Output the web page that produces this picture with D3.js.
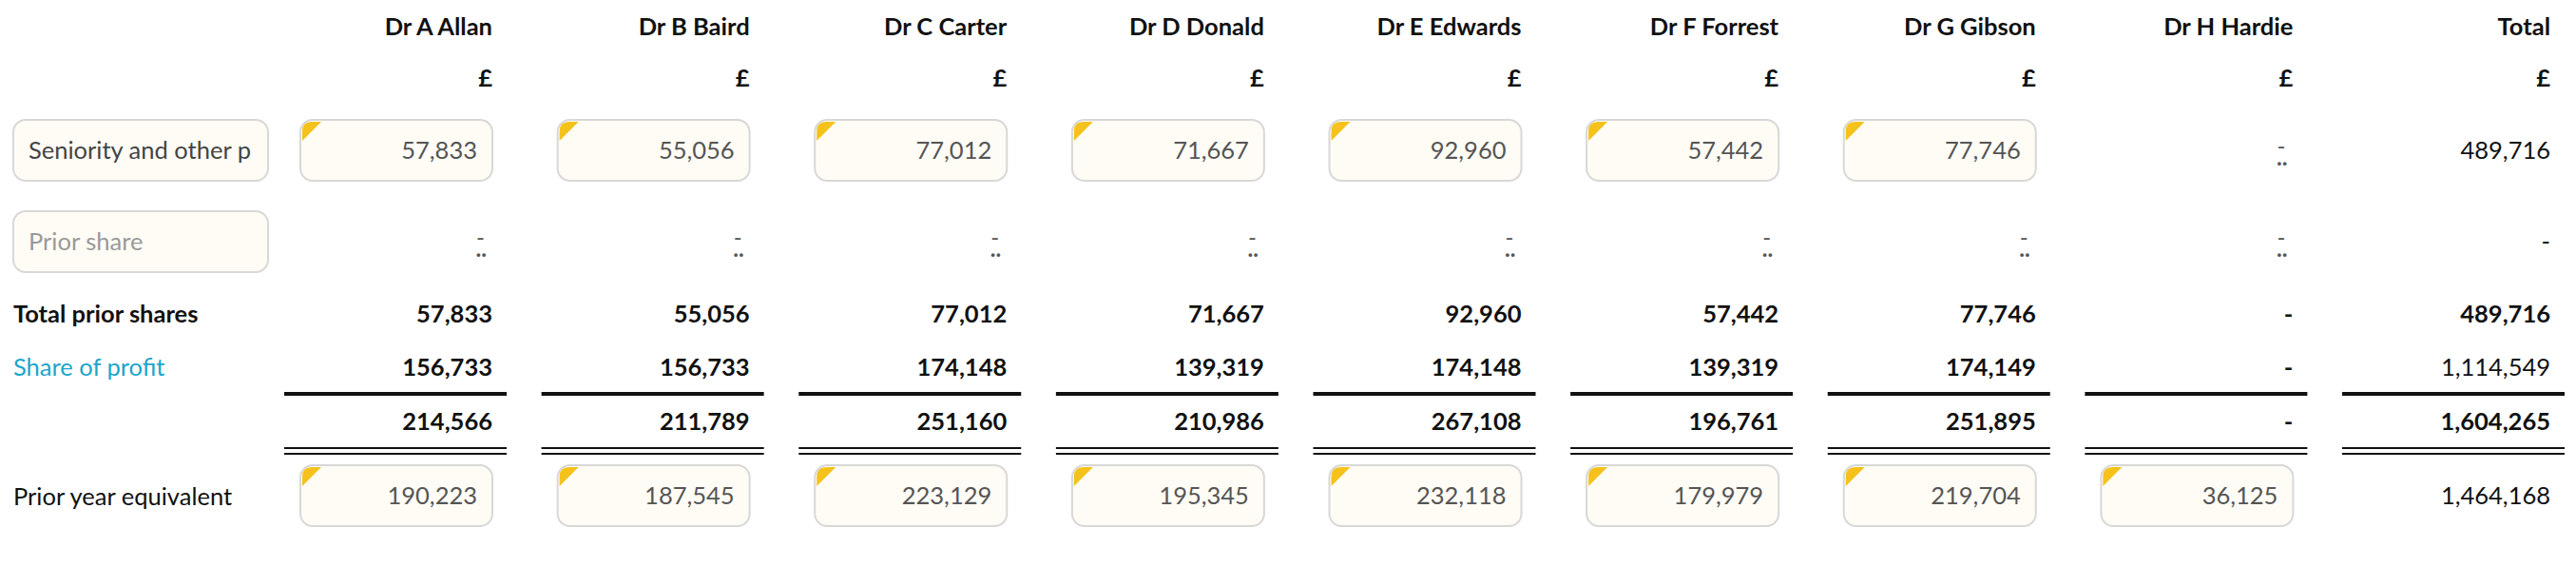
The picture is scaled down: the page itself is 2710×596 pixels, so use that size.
<!DOCTYPE html>
<html>
<head>
<meta charset="utf-8">
<script src="https://cdn.jsdelivr.net/npm/d3@7"></script>
<style>
  body { margin: 0; background: #fff; }
  text { font-family: Lato, "Noto Sans", sans-serif; }
</style>
</head>
<body>
<svg id="chart" width="2710" height="596"></svg>
<script>
// column headers
const partners = ['Dr A Allan', 'Dr B Baird', 'Dr C Carter', 'Dr D Donald', 'Dr E Edwards',
  'Dr F Forrest', 'Dr G Gibson', 'Dr H Hardie', 'Total'];
// null = empty input (placeholder), 0 = dash
const seniority = [57833, 55056, 77012, 71667, 92960, 57442, 77746, null, 489716];
const priorShare = [null, null, null, null, null, null, null, null, 0];
const totalPrior = [57833, 55056, 77012, 71667, 92960, 57442, 77746, 0, 489716];
const shareProfit = [156733, 156733, 174148, 139319, 174148, 139319, 174149, 0, 1114549];
const grandTotal = [214566, 211789, 251160, 210986, 267108, 196761, 251895, 0, 1604265];
const priorYear = [190223, 187545, 223129, 195345, 232118, 179979, 219704, 36125, 1464168];

const svg = d3.select('#chart');
const fmt = d3.format(',');
const nCols = partners.length;
const fs = 25.5;

// left edge of each column's underline
const x = d3.scaleLinear().domain([0, nCols - 1]).range([299, 2464]);
const colW = 234;
const textR = i => x(i) + 219;

const boxFill = '#fffcf5', boxStroke = '#d8d8d8';

function inputBox(g, x0, y0, w, h, corner) {
  g.append('rect').attr('x', x0).attr('y', y0).attr('width', w).attr('height', h)
    .attr('rx', 13).attr('fill', boxFill).attr('stroke', boxStroke).attr('stroke-width', 2);
  if (corner) {
    g.append('path')
      .attr('d', `M${x0 + 2},${y0 + 22} L${x0 + 2},${y0 + 12} Q${x0 + 2},${y0 + 2} ${x0 + 12},${y0 + 2} L${x0 + 22},${y0 + 2} Z`)
      .attr('fill', '#f5c21b');
  }
}

function emptyMark(g, xr, y) {
  g.append('text').attr('x', xr - 8).attr('y', y - 4).attr('text-anchor', 'end')
    .attr('font-size', 24).attr('fill', '#555').text('-');
  g.append('text').attr('x', xr - 6).attr('y', y + 8).attr('text-anchor', 'end')
    .attr('font-size', 24).attr('font-weight', 700).attr('fill', '#555').text('..');
}

// headers
svg.selectAll('.hdr').data(partners).enter().append('text')
  .attr('x', (d, i) => textR(i)).attr('y', 37).attr('text-anchor', 'end')
  .attr('font-size', fs).attr('font-weight', 700).attr('fill', '#111').text(d => d);
svg.selectAll('.cur').data(partners).enter().append('text')
  .attr('x', (d, i) => textR(i)).attr('y', 91).attr('text-anchor', 'end')
  .attr('font-size', fs).attr('font-weight', 700).attr('fill', '#111').text('£');

// row labels
const lab = svg.append('g');
inputBox(lab, 14, 126, 268, 64, false);
lab.append('text').attr('x', 30).attr('y', 167).attr('font-size', fs).attr('fill', '#444')
  .text('Seniority and other p');
inputBox(lab, 14, 222, 268, 64, false);
lab.append('text').attr('x', 30).attr('y', 263).attr('font-size', fs).attr('fill', '#999')
  .text('Prior share');
lab.append('text').attr('x', 14).attr('y', 339).attr('font-size', fs).attr('font-weight', 700)
  .attr('fill', '#111').text('Total prior shares');
lab.append('text').attr('x', 14).attr('y', 395).attr('font-size', fs)
  .attr('fill', '#1aa6cc').text('Share of profit');
lab.append('text').attr('x', 14).attr('y', 531).attr('font-size', fs)
  .attr('fill', '#111').text('Prior year equivalent');

// input rows
function inputRow(vals, yTop, boxUntil) {
  const g = svg.append('g');
  vals.forEach((v, i) => {
    const xr = textR(i);
    if (i < boxUntil && v !== null) {
      inputBox(g, xr - 202, yTop, 202, 64, true);
      g.append('text').attr('x', xr - 16).attr('y', yTop + 41).attr('text-anchor', 'end')
        .attr('font-size', fs).attr('fill', '#555').text(fmt(v));
    } else if (i === nCols - 1) {
      g.append('text').attr('x', xr).attr('y', yTop + 41).attr('text-anchor', 'end')
        .attr('font-size', fs).attr('fill', '#111').text(v ? fmt(v) : '-');
    } else {
      emptyMark(g, xr, yTop + 40);
    }
  });
}
inputRow(seniority, 126, nCols - 1);
inputRow(priorShare, 222, nCols - 1);
inputRow(priorYear, 489, nCols - 1);

// computed rows
function calcRow(vals, y, boldTotal) {
  svg.append('g').selectAll('text').data(vals).enter().append('text')
    .attr('x', (d, i) => textR(i)).attr('y', y).attr('text-anchor', 'end')
    .attr('font-size', fs)
    .attr('font-weight', (d, i) => (i < nCols - 1 || boldTotal) ? 700 : 400)
    .attr('fill', '#111').text(d => d ? fmt(d) : '-');
}
calcRow(totalPrior, 339, true);
calcRow(shareProfit, 395, false);
calcRow(grandTotal, 452, true);

// rules
const rules = svg.append('g').attr('stroke', '#111');
partners.forEach((p, i) => {
  rules.append('line').attr('x1', x(i)).attr('x2', x(i) + colW).attr('y1', 414).attr('y2', 414)
    .attr('stroke-width', 4);
  rules.append('line').attr('x1', x(i)).attr('x2', x(i) + colW).attr('y1', 471).attr('y2', 471)
    .attr('stroke-width', 2);
  rules.append('line').attr('x1', x(i)).attr('x2', x(i) + colW).attr('y1', 477).attr('y2', 477)
    .attr('stroke-width', 2);
});
</script>
</body>
</html>
